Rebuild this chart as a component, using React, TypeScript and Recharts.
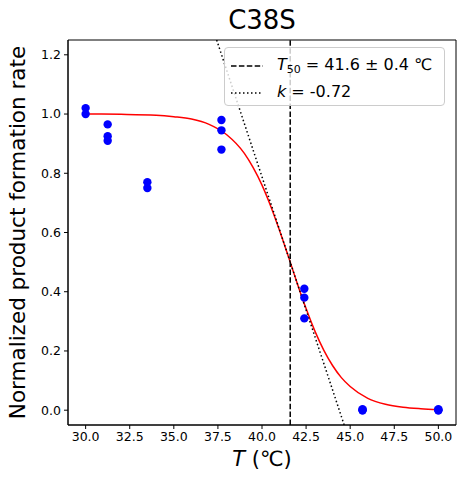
import React from 'react';
import {
  ComposedChart,
  Scatter,
  Line,
  XAxis,
  YAxis,
  ReferenceLine,
  ReferenceArea,
} from 'recharts';

// Measured points: temperature (°C) and normalized product formation rate
const measuredTemps = [30, 30, 31.25, 31.25, 31.25, 33.5, 33.5, 37.7, 37.7, 37.7, 42.4, 42.4, 42.4, 45.7, 45.7, 45.7, 50, 50, 50];
const measuredRates = [1.02, 1.0, 0.965, 0.925, 0.91, 0.77, 0.75, 0.98, 0.945, 0.88, 0.41, 0.38, 0.31, 0.003, 0.0, 0.0, 0.003, 0.0, 0.0];

// Fitted sigmoid curve
const fitTemps = [30, 32, 34, 35, 36, 37, 38, 39, 39.5, 40, 40.5, 41, 41.6, 42, 42.5, 43, 43.5, 44, 44.5, 45, 46, 47, 48, 49, 50];
const fitRates = [1.0, 0.999, 0.996, 0.991, 0.983, 0.965, 0.93, 0.867, 0.819, 0.76, 0.688, 0.606, 0.5, 0.428, 0.343, 0.267, 0.203, 0.151, 0.11, 0.08, 0.04, 0.02, 0.01, 0.005, 0.002];

// Tangent line at T50 (slope k/4)
const tangentTemps = [37.43, 44.66];
const tangentRates = [1.25, -0.05];

const T50 = 41.6;

const xTicks = [30, 32.5, 35, 37.5, 40, 42.5, 45, 47.5, 50];
const yTicks = [0, 0.2, 0.4, 0.6, 0.8, 1.0, 1.2];
const xDomain = [29, 51];
const yDomain = [-0.05, 1.25];

const scatterData = measuredTemps.map((x, i) => ({ x, y: measuredRates[i] }));
const fitData = fitTemps.map((x, i) => ({ x, y: fitRates[i] }));
const tangentData = tangentTemps.map((x, i) => ({ x, y: tangentRates[i] }));

const FONT = '"DejaVu Sans", sans-serif';

const Dot = (props: any) => {
  const { cx, cy } = props;
  if (cx == null || cy == null) return null;
  return <circle cx={cx} cy={cy} r={4.2} fill="#0000ff" />;
};

const XLabel = (props: any) => {
  const vb = props.viewBox || {};
  const cx = (vb.x ?? 68) + (vb.width ?? 388) / 2;
  const y = (vb.y ?? 425) + 41;
  return (
    <text x={cx} y={y} textAnchor="middle" fontSize={21} fontFamily={FONT} fill="#000">
      <tspan fontStyle="italic">T</tspan>
      <tspan> (℃)</tspan>
    </text>
  );
};

const YLabel = (props: any) => {
  const vb = props.viewBox || {};
  const cy = (vb.y ?? 40) + (vb.height ?? 385) / 2;
  const x = 25;
  return (
    <text
      x={x}
      y={cy}
      textAnchor="middle"
      fontSize={21.5}
      fontFamily={FONT}
      fill="#000"
      transform={`rotate(-90, ${x}, ${cy})`}
    >
      Normalized product formation rate
    </text>
  );
};

export default function App() {
  return (
    <div style={{ position: 'absolute', left: 0, top: 0, width: 464, height: 487, background: '#fff', fontFamily: FONT }}>
      <ComposedChart
        width={464}
        height={487}
        margin={{ top: 40, right: 8, bottom: 0, left: 0 }}
      >
        <XAxis
          dataKey="x"
          type="number"
          domain={xDomain}
          ticks={xTicks}
          allowDataOverflow
          tickFormatter={(v: number) => v.toFixed(1)}
          tickSize={4}
          tickMargin={3}
          height={62}
          stroke="#000"
          tick={{ fill: '#000', fontSize: 12.5, fontFamily: FONT }}
          label={<XLabel />}
        />
        <YAxis
          dataKey="y"
          type="number"
          domain={yDomain}
          ticks={yTicks}
          allowDataOverflow
          tickFormatter={(v: number) => v.toFixed(1)}
          tickSize={4}
          tickMargin={3}
          width={68}
          stroke="#000"
          tick={{ fill: '#000', fontSize: 12.5, fontFamily: FONT }}
          label={<YLabel />}
        />
        <Scatter data={scatterData} dataKey="y" shape={<Dot />} isAnimationActive={false} />
        <Line
          data={fitData}
          dataKey="y"
          type="monotone"
          stroke="#ff0000"
          strokeWidth={1.5}
          dot={false}
          activeDot={false}
          isAnimationActive={false}
        />
        <ReferenceLine
          x={T50}
          stroke="#000"
          strokeWidth={1.5}
          strokeDasharray="5.5 2.4"
        />
        <Line
          data={tangentData}
          dataKey="y"
          type="linear"
          stroke="#000"
          strokeWidth={1.5}
          strokeDasharray="1.5 2.5"
          dot={false}
          activeDot={false}
          isAnimationActive={false}
        />
        <ReferenceArea
          x1={xDomain[0]}
          x2={xDomain[1]}
          y1={yDomain[0]}
          y2={yDomain[1]}
          fill="none"
          fillOpacity={0}
          stroke="#000"
          strokeWidth={1}
        />
      </ComposedChart>

      {/* Title */}
      <div
        style={{
          position: 'absolute',
          left: 68,
          width: 388,
          top: 4,
          textAlign: 'center',
          fontSize: 26,
          lineHeight: '32px',
          color: '#000',
        }}
      >
        C38S
      </div>

      {/* Legend */}
      <div
        style={{
          position: 'absolute',
          left: 224,
          top: 47,
          width: 221,
          height: 59,
          border: '1px solid #cccccc',
          borderRadius: 4,
          background: 'rgba(255,255,255,0.8)',
          boxSizing: 'border-box',
          fontSize: 16,
          color: '#000',
        }}
      >
        <svg style={{ position: 'absolute', left: 5, top: 16 }} width={34} height={4}>
          <line x1={1} y1={2} x2={33} y2={2} stroke="#000" strokeWidth={1.5} strokeDasharray="5.5 2.4" />
        </svg>
        <div style={{ position: 'absolute', left: 52, top: 7, lineHeight: '20px', whiteSpace: 'nowrap' }}>
          <i>T</i>
          <sub style={{ fontSize: 11, verticalAlign: '-3px' }}>50</sub> = 41.6 ± 0.4 ℃
        </div>
        <svg style={{ position: 'absolute', left: 5, top: 43 }} width={34} height={4}>
          <line x1={1} y1={2} x2={33} y2={2} stroke="#000" strokeWidth={1.5} strokeDasharray="1.5 2.5" />
        </svg>
        <div style={{ position: 'absolute', left: 52, top: 34, lineHeight: '20px', whiteSpace: 'nowrap' }}>
          <i>k</i> = -0.72
        </div>
      </div>
    </div>
  );
}
